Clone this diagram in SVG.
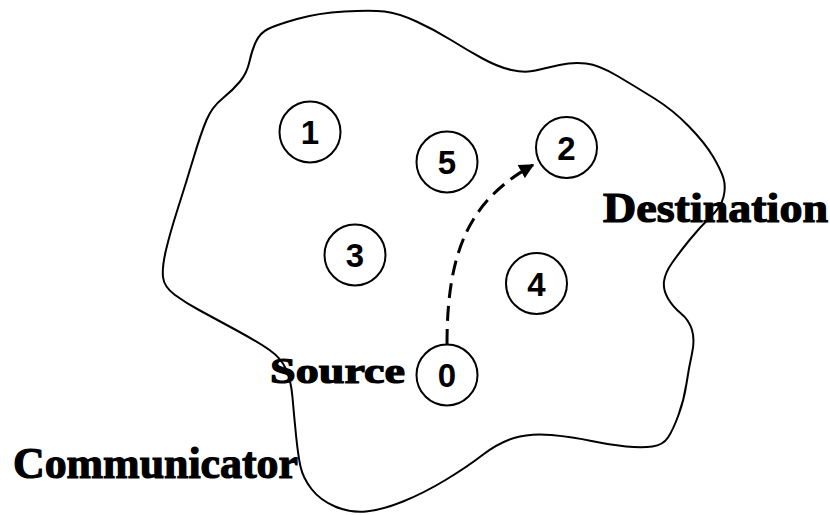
<svg xmlns="http://www.w3.org/2000/svg" width="830" height="515" viewBox="0 0 830 515">
<style>
.node circle{fill:#fff;stroke:#000;stroke-width:2}
</style>
<defs>
<marker id="ah" viewBox="0 0 10 10" refX="9" refY="5" markerWidth="5" markerHeight="5" orient="auto" markerUnits="strokeWidth">
<path d="M0,0 L10,5 L0,10 Z" fill="#000"/>
</marker>
</defs>
<rect width="830" height="515" fill="#fff"/>
<g id="region">
<path fill="none" stroke="#000" stroke-width="2" d="M297,19 Q318,13 344.5,11.5 Q371,10 384.5,11.5 Q398,13 416.5,21.5 Q435,30 451,40 Q467,50 482.5,58.5 Q498,67 511.5,70 Q525,73 535.5,70.5 Q546,68 559.5,65 Q573,62 586,63.5 Q599,65 617.5,76 Q636,87 654.5,98.5 Q673,110 689,126.5 Q705,143 713,156.5 Q721,170 723.5,178.5 Q726,187 723.5,197 Q721,207 710.5,217 Q700,227 689.5,240 Q679,253 672,263 Q665,273 664,281.5 Q663,290 668,298.5 Q673,307 681,313.5 Q689,320 692,330 Q695,340 692,353.5 Q689,367 686.5,383.5 Q684,400 678.5,415 Q673,430 668,437.5 Q663,445 652.5,446.5 Q642,448 626,446.5 Q610,445 591.5,441 Q573,437 551.5,435 Q530,433 514,438 Q498,443 482.5,455 Q467,467 445.5,480 Q424,493 403,501.5 Q382,510 366,511.5 Q350,513 335,506.5 Q320,500 311.5,489 Q303,478 300.5,466.5 Q298,455 296,435 Q294,415 292.5,397.5 Q291,380 286,369 Q281,358 269.5,350 Q258,342 235,329.5 Q212,317 199,310 Q186,303 175,295 Q164,287 163,277 Q162,267 166,250 Q170,233 178,208 Q186,183 193.5,158 Q201,133 206.5,120 Q212,107 222.5,98.5 Q233,90 240,81.5 Q247,73 249.5,61.5 Q252,50 256,41.5 Q260,33 268,29 Q276,25 297,19 Z"/>
</g>
<g id="connectors">
<path d="M447,344 C447,250 470,200 533,165" fill="none" stroke="#000" stroke-width="3" stroke-dasharray="15,8" marker-end="url(#ah)"/>
</g>
<g font-family="'Liberation Sans', Arial, sans-serif" font-weight="bold" font-size="33" text-anchor="middle" fill="#000" style="font-size:33px">
<g id="node0" class="node"><circle cx="447" cy="375" r="30.5"/><text x="447" y="387" style="font-size:33px">0</text></g>
<g id="node1" class="node"><circle cx="310" cy="132" r="30.5"/><text x="310" y="144" style="font-size:33px">1</text></g>
<g id="node2" class="node"><circle cx="566.5" cy="147.5" r="30.5"/><text x="566.5" y="159.5" style="font-size:33px">2</text></g>
<g id="node3" class="node"><circle cx="355" cy="255" r="30.5"/><text x="355" y="267" style="font-size:33px">3</text></g>
<g id="node4" class="node"><circle cx="536.5" cy="283.5" r="30.5"/><text x="536.5" y="295.5" style="font-size:33px">4</text></g>
<g id="node5" class="node"><circle cx="447" cy="162" r="30.5"/><text x="447" y="174" style="font-size:33px">5</text></g>
</g>
<g id="labels" font-family="'Liberation Serif', 'Times New Roman', serif" font-weight="bold" fill="#000" stroke="#000" stroke-width="1.2">
<text x="603" y="222" font-size="42" textLength="225" lengthAdjust="spacingAndGlyphs">Destination</text>
<text x="270" y="383" font-size="36" textLength="135" lengthAdjust="spacingAndGlyphs">Source</text>
<text x="13" y="478" font-size="44" textLength="285" lengthAdjust="spacingAndGlyphs">Communicator</text>
</g>
</svg>
